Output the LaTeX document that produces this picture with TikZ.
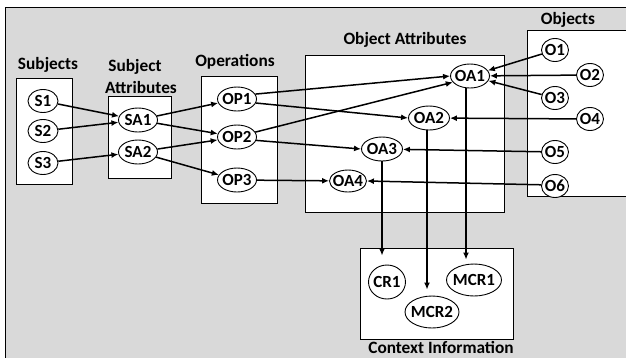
\documentclass[tikz,border=0pt]{standalone}
\usepackage{fontspec}
\setmainfont{Carlito}
\usetikzlibrary{shapes.geometric,arrows.meta,calc}
\definecolor{bggray}{HTML}{D9D9D9}
\newcommand{\zb}[1]{\makebox[0pt][c]{#1}}
\tikzset{
  el/.style={ellipse,draw,line width=0.9pt,fill=white,inner sep=0pt,font=\bfseries\fontsize{17}{17}\selectfont},
  sm/.style={el,minimum width=30pt,minimum height=23pt},
  md/.style={el,minimum width=39pt,minimum height=24pt},
  grp/.style={draw,line width=1pt,fill=white},
  ttl/.style={font=\bfseries\fontsize{17.3}{17.3}\selectfont,inner sep=0pt},
  arr/.style={line width=1.5pt,-{Latex[length=7pt,width=6pt]}},
}
\begin{document}
\begin{tikzpicture}[x=1pt,y=-1pt]
\useasboundingbox (0,0) rectangle (626,357);
\fill[bggray] (5,7) rectangle (640,370);
\draw[line width=1pt] (5,370) -- (5,7) -- (640,7);
% group boxes
\draw[grp] (16,78) rectangle (72,184);
\draw[grp] (108,96) rectangle (171,178);
\draw[grp] (201,76) rectangle (277,203);
\draw[grp] (305,55) rectangle (504,212);
\draw[grp] (527,30) rectangle (640,196);
\draw[grp] (360,248) rectangle (513,339);
% titles
\node[ttl] (tS) at (48,65) {Subjects};
\node[ttl] (tSA1) at (135,67) {Subject};
\node[ttl] (tSA2) at (141,87) {Attributes};
\node[ttl] (tOP) at (235,62) {Operations};
\node[ttl] (tOA) at (405,40) {Object Attributes};
\node[ttl] (tO) at (568,20) {Objects};
\node[ttl] (tC) at (441,347.5) {Context Information};
% nodes
\node[sm] (S1) at (43,101) {\zb{S1}};
\node[sm] (S2) at (43,131) {\zb{S2}};
\node[sm] (S3) at (43,163) {\zb{S3}};
\node[md] (SA1) at (138,120) {\zb{SA1}};
\node[md] (SA2) at (138,152) {\zb{SA2}};
\node[md] (OP1) at (237,99) {\zb{OP1}};
\node[md] (OP2) at (237,137) {\zb{OP2}};
\node[md] (OP3) at (237,180) {\zb{OP3}};
\node[md] (OA1) at (470,76) {\zb{OA1}};
\node[md,minimum width=41pt] (OA2) at (429,118) {\zb{OA2}};
\node[md,minimum width=41pt] (OA3) at (382,149) {\zb{OA3}};
\node[md,minimum width=37pt,minimum height=22pt] (OA4) at (348,181) {\zb{OA4}};
\node[sm,minimum width=27pt] (O1) at (555,50) {\zb{O1}};
\node[sm,minimum width=27pt] (O2) at (590,75) {\zb{O2}};
\node[sm,minimum width=27pt] (O3) at (555,98) {\zb{O3}};
\node[sm,minimum width=27pt] (O4) at (590,119) {\zb{O4}};
\node[sm,minimum width=27pt] (O5) at (555,152) {\zb{O5}};
\node[sm,minimum width=27pt] (O6) at (555,186) {\zb{O6}};
\node[el,minimum width=37pt,minimum height=34pt] (CR1) at (387,282) {\zb{CR1}};
\node[el,minimum width=55pt,minimum height=32pt] (MCR1) at (474,280) {\zb{MCR1}};
\node[el,minimum width=54pt,minimum height=32pt] (MCR2) at (432,312) {\zb{MCR2}};
% connectors
\draw[arr] (S1) -- (SA1);
\draw[arr] (S2) -- (SA1);
\draw[arr] (S3) -- (SA2);
\draw[arr] (SA1) -- (OP1);
\draw[arr] (SA1) -- (OP2);
\draw[arr] (SA2) -- (OP2);
\draw[arr] (SA2) -- (OP3);
\draw[arr] (OP1.15) -- (OA1.west);
\draw[arr] (OP1.-12) -- (OA2.west);
\draw[arr] (OP2.15) -- (OA1.200);
\draw[arr] (OP2.-10) -- (OA3.west);
\draw[arr] (OP3) -- (OA4);
\draw[arr] (O1) -- (OA1);
\draw[arr] (O2) -- (OA1);
\draw[arr] (O3) -- (OA1);
\draw[arr] (O4) -- (OA2);
\draw[arr] (O5) -- (OA3);
\draw[arr] (O6.175) -- (OA4.east);
\draw[arr,shorten >=9pt] (OA3.south) -- (OA3.south |- CR1.north);
\draw[arr,shorten >=6pt] ([xshift=-2pt]OA2.south) -- ([xshift=-2pt]OA2.south |- MCR2.north);
\draw[arr,shorten >=4pt] ([xshift=-4pt]OA1.south) -- ([xshift=-4pt]OA1.south |- MCR1.north);
\end{tikzpicture}
\end{document}
